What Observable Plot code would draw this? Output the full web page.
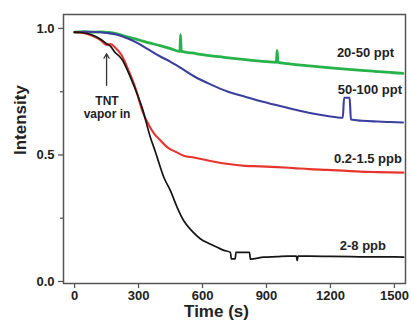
<!DOCTYPE html>
<html>
<head>
<meta charset="utf-8">
<script src="https://cdn.jsdelivr.net/npm/d3@7"></script>
<script src="https://cdn.jsdelivr.net/npm/@observablehq/plot@0.6"></script>
<style>
  html, body { margin: 0; padding: 0; background: #fff; }
  #chart svg { display: block; }
</style>
</head>
<body>
<div id="chart"></div>
<script>
// ---- data ----
const greenT = [0,40,80,120,160,200,250,300,350,400,450,494,497,500,550,600,700,800,900,946,950,954,1000,1100,1200,1300,1400,1480,1540];
const greenV = [0.985,0.987,0.985,0.986,0.984,0.978,0.966,0.955,0.943,0.932,0.92,0.909,0.975,0.909,0.903,0.896,0.886,0.877,0.869,0.866,0.913,0.866,0.861,0.852,0.844,0.837,0.831,0.826,0.822];

const blueT = [0,50,100,150,200,250,300,350,400,450,500,560,640,720,800,870,950,1030,1110,1185,1258,1264,1290,1296,1350,1420,1480,1540];
const blueV = [0.985,0.987,0.986,0.982,0.975,0.96,0.94,0.915,0.89,0.868,0.843,0.811,0.778,0.75,0.73,0.713,0.696,0.68,0.665,0.654,0.647,0.726,0.726,0.64,0.635,0.632,0.63,0.628];

const redT = [0,40,80,120,150,170,190,220,256,287,319,350,372,400,434,480,512,560,637,731,800,872,950,1028,1100,1184,1260,1340,1420,1542];
const redV = [0.985,0.982,0.972,0.955,0.935,0.938,0.925,0.895,0.828,0.76,0.671,0.615,0.585,0.56,0.531,0.51,0.497,0.49,0.476,0.463,0.457,0.455,0.452,0.448,0.444,0.441,0.438,0.434,0.432,0.43];

const blackT = [0,40,80,120,150,168,190,210,225,250,280,317,356,380,395,419,450,481,512,550,591,630,669,700,731,735,753,757,820,825,887,950,1000,1040,1044,1048,1100,1200,1300,1400,1500,1544];
const blackV = [0.985,0.983,0.975,0.958,0.94,0.93,0.905,0.89,0.874,0.83,0.77,0.686,0.568,0.51,0.47,0.411,0.358,0.293,0.24,0.2,0.168,0.15,0.135,0.123,0.115,0.089,0.089,0.115,0.115,0.088,0.096,0.098,0.1,0.1,0.083,0.1,0.1,0.099,0.098,0.097,0.097,0.096];

const seriesNames = ["20-50 ppt", "50-100 ppt", "0.2-1.5 ppb", "2-8 ppb"];
const seriesColors = ["#27b24a", "#3a3f9e", "#e8342c", "#151515"];
const seriesWidths = [2.8, 2.1, 2.1, 1.7];
const labelT = [1364, 1385, 1376, 1352];
const labelV = [0.902, 0.756, 0.484, 0.142];

const xTicks = [0, 300, 600, 900, 1200, 1500];
const yTicks = [0, 0.5, 1.0];
const yMinorTicks = [0.25, 0.75];

const annotText = ["TNT\nvapor in"];
const annotT = [152];
const annotV = [0.688];
const arrowT = [150];
const arrowFrom = [0.775];
const arrowTo = [0.9];

// ---- build tables ----
const seriesT = [greenT, blueT, redT, blackT];
const seriesV = [greenV, blueV, redV, blackV];
const rows = [];
seriesNames.forEach((name, i) => {
  seriesT[i].forEach((t, j) => rows.push({series: name, t, v: seriesV[i][j]}));
});
const labels = seriesNames.map((name, i) => ({name, t: labelT[i], v: labelV[i]}));

const font = "'Liberation Sans', Arial, sans-serif";

const marks = [];
seriesNames.forEach((name, i) => {
  marks.push(Plot.line(rows.filter(d => d.series === name), {
    x: "t", y: "v", stroke: seriesColors[i], strokeWidth: seriesWidths[i], curve: "monotone-x"
  }));
});

const chart = Plot.plot({
  width: 411,
  height: 322,
  marginLeft: 63,
  marginRight: 6,
  marginTop: 14,
  marginBottom: 39,
  style: {fontFamily: font, fontWeight: "bold", fontSize: "13px", color: "#222", background: "#fff"},
  x: {domain: [-52, 1552]},
  y: {domain: [-0.008, 1.055]},
  marks: [
    ...marks,
    Plot.frame({stroke: "#555", strokeWidth: 1.5}),
    Plot.axisX({ticks: xTicks, tickSize: 5, tickPadding: 2, tickFormat: d3.format("d"), label: null, stroke: "#555", strokeWidth: 1.3, fontSize: 13, fontWeight: "bold"}),
    Plot.axisY({ticks: yTicks, tickSize: 5, tickPadding: 4, tickFormat: d3.format(".1f"), label: null, stroke: "#555", strokeWidth: 1.3, fontSize: 13, fontWeight: "bold"}),
    Plot.axisY({ticks: yMinorTicks, tickSize: 3, tickFormat: () => "", label: null, stroke: "#555", strokeWidth: 1.2}),
    Plot.text(["Intensity"], {frameAnchor: "left", dx: -43, dy: 6, rotate: -90, fontSize: 17, fontWeight: "bold", fill: "#222"}),
    Plot.text(["Time (s)"], {frameAnchor: "bottom", lineAnchor: "middle", dy: 28, dx: -18, fontSize: 17, fontWeight: "bold", fill: "#222"}),
    Plot.text(labels, {x: "t", y: "v", text: "name", fontSize: 13, fontWeight: "bold", fill: "#222"}),
    Plot.arrow(arrowT.map((t, i) => ({t, a: arrowFrom[i], b: arrowTo[i]})), {
      x1: "t", x2: "t", y1: "a", y2: "b", stroke: "#333", strokeWidth: 1.3, headLength: 6
    }),
    Plot.text(annotText.map((s, i) => ({s, t: annotT[i], v: annotV[i]})), {
      x: "t", y: "v", text: "s", fontSize: 12, fontWeight: "bold", fill: "#222", lineHeight: 1.1
    })
  ]
});
document.getElementById("chart").appendChild(chart);
</script>
</body>
</html>
